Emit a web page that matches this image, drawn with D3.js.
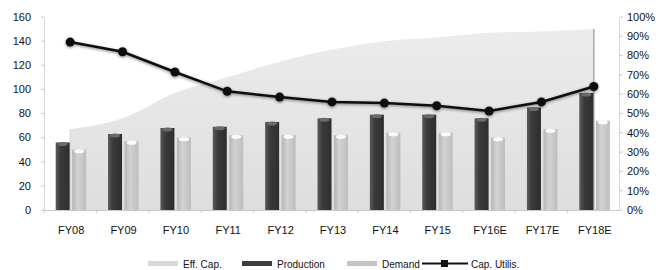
<!DOCTYPE html>
<html><head><meta charset="utf-8">
<script src="https://cdn.jsdelivr.net/npm/d3@7"></script>
<style>body{margin:0;background:#fff}svg{display:block;font-family:"Liberation Sans",Arial,sans-serif}</style>
</head><body><svg id="c" width="668" height="270"></svg>
<script>
const categories=["FY08","FY09","FY10","FY11","FY12","FY13","FY14","FY15","FY16E","FY17E","FY18E"];
const effCap=[67,76,97,110,123,133,140,143,147,148,150];
const production=[56,63,68,69,73,76,79,79,76,85,97];
const demand=[50,57,60,62,62,62,64,64,60,67,74];
const capUtil=[0.87,0.82,0.715,0.615,0.585,0.56,0.554,0.54,0.513,0.56,0.64];
const leftTicks=[0,20,40,60,80,100,120,140,160];
const rightTicks=[0,0.1,0.2,0.3,0.4,0.5,0.6,0.7,0.8,0.9,1];

const svg=d3.select("#c");
const L=44,R=620,T=17,B=210;
const x=d3.scaleBand().domain(categories).range([L,R]);
const y=d3.scaleLinear().domain([0,160]).range([B,T]);
const y2=d3.scaleLinear().domain([0,1]).range([B,T]);
const cx=d=>x(d)+x.bandwidth()/2;

const defs=svg.append("defs");
const gp=defs.append("linearGradient").attr("id","gp");
[["0%","#5a5a5a"],["35%","#3a3a3a"],["100%","#2e2e2e"]].forEach(s=>gp.append("stop").attr("offset",s[0]).attr("stop-color",s[1]));
const gd=defs.append("linearGradient").attr("id","gd");
[["0%","#b5b5b5"],["40%","#d3d3d3"],["100%","#bdbdbd"]].forEach(s=>gd.append("stop").attr("offset",s[0]).attr("stop-color",s[1]));
const ga=defs.append("linearGradient").attr("id","ga").attr("x1",0).attr("y1",0).attr("x2",0).attr("y2",1);
[["0%","#ececec"],["100%","#dedede"]].forEach(s=>ga.append("stop").attr("offset",s[0]).attr("stop-color",s[1]));
const sh=defs.append("filter").attr("id","sh").attr("x","-50%").attr("y","-50%").attr("width","200%").attr("height","200%");
sh.append("feGaussianBlur").attr("in","SourceAlpha").attr("stdDeviation",1.5).attr("result","b");
sh.append("feOffset").attr("in","b").attr("dx",0).attr("dy",1).attr("result","o");
sh.append("feComponentTransfer").attr("in","o").attr("result","o2").append("feFuncA").attr("type","linear").attr("slope",0.5);
const m=sh.append("feMerge");m.append("feMergeNode").attr("in","o2");m.append("feMergeNode").attr("in","SourceGraphic");

// Eff cap area
const area=d3.area().x((d,i)=>cx(categories[i])).y0(B).y1(d=>y(d)).curve(d3.curveMonotoneX);
svg.append("path").datum(effCap).attr("d",area).attr("fill","url(#ga)");
svg.append("line").attr("x1",cx(categories[10])).attr("x2",cx(categories[10])).attr("y1",y(effCap[10])).attr("y2",B).attr("stroke","#a8a8a8").attr("stroke-width",1.5);
svg.append("line").attr("x1",cx(categories[0])).attr("x2",cx(categories[0])).attr("y1",y(effCap[0])).attr("y2",B).attr("stroke","#d0d0d0").attr("stroke-width",1);

// axes lines
svg.append("line").attr("x1",L).attr("x2",R).attr("y1",B+0.5).attr("y2",B+0.5).attr("stroke","#c8c8c8");
svg.append("line").attr("x1",L+0.5).attr("x2",L+0.5).attr("y1",T).attr("y2",B).attr("stroke","#d8d8d8");
svg.append("line").attr("x1",R-0.5).attr("x2",R-0.5).attr("y1",T).attr("y2",B).attr("stroke","#d8d8d8");

// bars
const bw=14;
svg.selectAll(".p").data(production).join("rect").attr("x",(d,i)=>cx(categories[i])-bw-0.5).attr("width",bw)
 .attr("y",d=>y(d)).attr("height",d=>B-y(d)).attr("fill","url(#gp)");
svg.selectAll(".ph").data(production).join("ellipse").attr("cx",(d,i)=>cx(categories[i])-bw/2-0.5).attr("cy",d=>y(d)+1.5).attr("rx",bw/2-2).attr("ry",2).attr("fill","#6a6a6a");
svg.selectAll(".d").data(demand).join("rect").attr("x",(d,i)=>cx(categories[i])+2).attr("width",bw)
 .attr("y",d=>y(d)).attr("height",d=>B-y(d)).attr("fill","url(#gd)");
svg.selectAll(".dh").data(demand).join("ellipse").attr("cx",(d,i)=>cx(categories[i])+2+bw/2).attr("cy",d=>y(d)+1.5).attr("rx",bw/2-2).attr("ry",2).attr("fill","#fafafa");

// left ticks
const gl=svg.append("g").attr("font-size",11).attr("fill","#111");
leftTicks.forEach(t=>{
  gl.append("text").attr("x",31).attr("y",y(t)).attr("dy","0.35em").attr("text-anchor","end").text(t);
  gl.append("line").attr("x1",L-3).attr("x2",L).attr("y1",y(t)).attr("y2",y(t)).attr("stroke","#c8c8c8");
});
const fmt=d3.format(".0%");
rightTicks.forEach(t=>{
  gl.append("text").attr("x",627).attr("y",y2(t)).attr("dy","0.35em").text(fmt(t));
  gl.append("line").attr("x1",R).attr("x2",R+3).attr("y1",y2(t)).attr("y2",y2(t)).attr("stroke","#c8c8c8");
});
categories.forEach((c,i)=>{
  gl.append("text").attr("x",cx(c)+1).attr("y",234).attr("text-anchor","middle").text(c);
  svg.append("line").attr("x1",x(c)).attr("x2",x(c)).attr("y1",B).attr("y2",B+3).attr("stroke","#c8c8c8");
});

// line
const line=d3.line().x((d,i)=>cx(categories[i])).y(d=>y2(d));
const lg=svg.append("g").attr("filter","url(#sh)");
lg.append("path").datum(capUtil).attr("d",line).attr("fill","none").attr("stroke","#111").attr("stroke-width",2.5);
lg.selectAll("circle").data(capUtil).join("circle").attr("cx",(d,i)=>cx(categories[i])).attr("cy",d=>y2(d)).attr("r",4.5).attr("fill","#111");

// legend
const leg=svg.append("g").attr("font-size",10).attr("fill","#111");
const items=[{n:"Eff. Cap.",x:148,f:"#d8d8d8"},{n:"Production",x:242,f:"#3c3c3c"},{n:"Demand",x:347,f:"#c4c4c4"}];
items.forEach(it=>{
  leg.append("rect").attr("x",it.x).attr("y",261).attr("width",30).attr("height",5).attr("fill",it.f);
  leg.append("text").attr("x",it.x+35).attr("y",264).attr("dy","0.35em").text(it.n);
});
leg.append("line").attr("x1",422).attr("x2",468).attr("y1",263.5).attr("y2",263.5).attr("stroke","#111").attr("stroke-width",2);
leg.append("rect").attr("x",441).attr("y",260).attr("width",7).attr("height",7).attr("fill","#111");
leg.append("text").attr("x",471).attr("y",264).attr("dy","0.35em").text("Cap. Utilis.");
</script></body></html>
